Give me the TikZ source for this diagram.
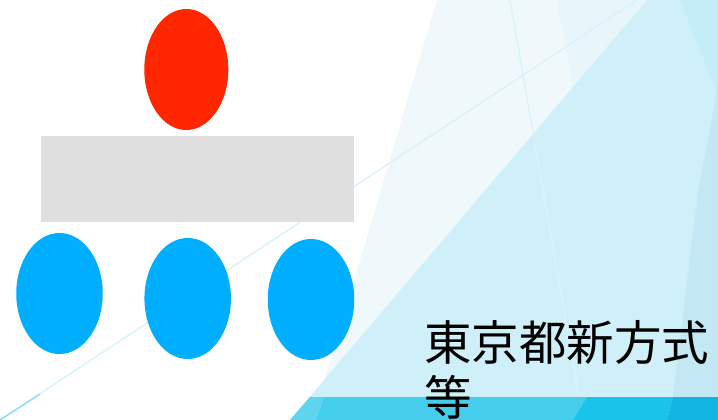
\documentclass[tikz,border=0pt]{standalone}
\usepackage{fontspec}
\newfontfamily\cjk{Noto Sans CJK JP}
\usetikzlibrary{shapes.geometric}
\definecolor{redE}{HTML}{FF2600}
\definecolor{blueE}{HTML}{00AEFF}
\definecolor{grayR}{HTML}{DFDFDF}
\definecolor{paleA}{HTML}{EFF9FC}
\definecolor{paleB}{HTML}{E8F6FB}
\definecolor{cyanC}{HTML}{CFF0F8}
\definecolor{cyanD}{HTML}{C5EDF7}
\definecolor{cyanE}{HTML}{C4E7F4}
\definecolor{lineC}{HTML}{DAF2FA}
\definecolor{bandA}{HTML}{5ED4EF}
\definecolor{bandB}{HTML}{45CDEC}
\definecolor{bandC}{HTML}{1AC3EA}
\definecolor{bandD}{HTML}{12B4E0}
\tikzset{
  oval/.style={ellipse, inner sep=0pt, minimum width=#1, minimum height=121pt},
  redoval/.style={oval=84pt, fill=redE},
  blueoval/.style={oval=86.5pt, fill=blueE},
  greybox/.style={rectangle, inner sep=0pt, minimum width=313pt, minimum height=86pt, fill=grayR},
  facetline/.style={draw=lineC, line width=1.4pt},
}
\begin{document}
\begin{tikzpicture}[x=1pt,y=-1pt]
\useasboundingbox (0,0) rectangle (718,420);
\clip (0,0) rectangle (718,420);
% background facets
\fill[white] (0,0) rectangle (718,420);
\fill[paleA] (437,0) -- (718,0) -- (718,420) -- (313,420) -- cycle;
\fill[paleB] (557,0) -- (718,0) -- (718,420) -- (632,420) -- cycle;
\fill[cyanC] (647,0) -- (718,0) -- (718,420) -- (290,420) -- cycle;
\fill[cyanD] (680,0) -- (718,0) -- (718,95) -- cycle;
\fill[cyanE] (718,85) -- (698,193) -- (670,420) -- (718,420) -- cycle;
% thin lines
\coordinate (l1a) at (0,420);
\coordinate (l1b) at (637,0);
\coordinate (l1c) at (40,394);
\coordinate (l2a) at (510,0);
\coordinate (l2b) at (583,420);
\draw[facetline] (l1a) -- (l1b);
\draw[draw=bandA!70, line width=1.5pt] (l1a) -- (l1c);
\draw[facetline] (l2a) -- (l2b);
% bottom band
\fill[bandA] (290,420) -- (310,397) -- (324,397) -- (316,420) -- cycle;
\fill[bandB] (316,420) -- (324,397) -- (587,397) -- (573,420) -- cycle;
\fill[bandC] (573,420) -- (587,397) -- (673,397) -- (667,420) -- cycle;
\fill[bandD] (667,420) -- (673,397) -- (718,397) -- (718,420) -- cycle;
% diagram shapes
\node[redoval] (top) at (186.3,69.5) {};
\node[greybox] (bar) at (197.5,178.8) {};
\node[blueoval] (b1) at (59.5,293.5) {};
\node[blueoval] (b2) at (187.7,298.5) {};
\node[blueoval] (b3) at (311,299.5) {};
% text
\node[anchor=base west, inner sep=0pt, align=left,
      font=\cjk\fontsize{47.5pt}{55pt}\selectfont] (label) at (424,415) {東京都新方式\\等};
\end{tikzpicture}
\end{document}
